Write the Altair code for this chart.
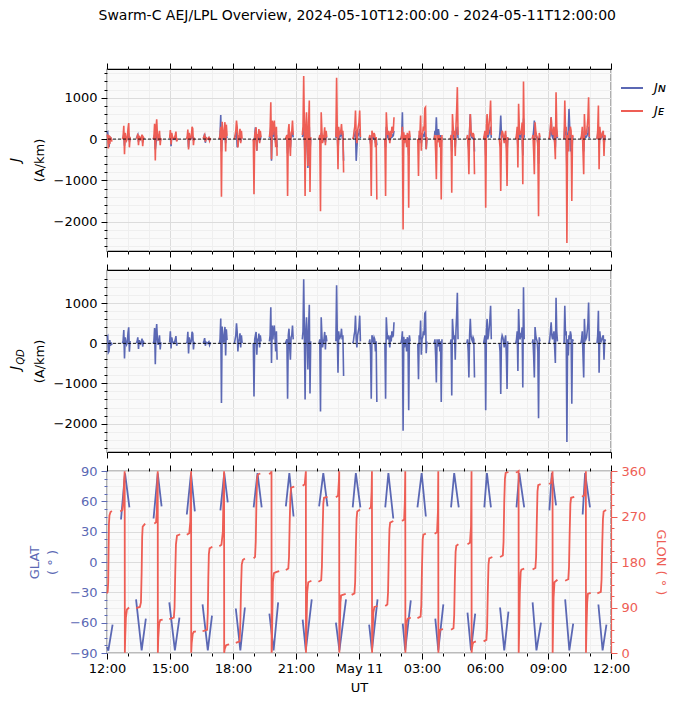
import altair as alt
import pandas as pd

BASE_MS = 1715342400000  # 2024-05-10T12:00:00 UTC
MIN_MS = 60000
BLUE = "#5B68B4"
RED = "#EE5E55"
FONT = "DejaVu Sans"
W, H = 504, 182

# ---------------- J data: pass start (minutes after 12:00 UT), 2-min cadence
J_STEP = 2
j_start = [0, 44, 84, 132, 179, 227, 275, 321, 364, 418, 464, 510, 558, 606, 654, 702,
           749, 794, 840, 888, 935, 981, 1028, 1076, 1121, 1168, 1215, 1263, 1306, 1354, 1400]
j_e = [
    [60, 110, -230, 90, -120, 40, 20, -60],
    [0, 60, 320, -370, 150, 40, -30, 20, 250, 390, -200, 60],
    [10, 40, 130, -150, 80, 20, -10, 30, 110, -170, 40, 10],
    [0, 50, 370, -520, 250, 480, 100, -40, 60, 200, -150, 30],
    [20, 220, -130, 150, 60, 20, 0, 30, 100, 180, -60, 20],
    [0, 40, 230, -250, 150, 50, 10, 60, 300, 250, -150, 40],
    [10, 60, 100, -60, 30, 10, 0, 20, 40, -40, 10, 0],
    [0, 100, 300, -1400, 420, 150, 20, 200, 410, -300, 350, 80],
    [0, 100, 200, 447, 285, -203, 60, 100, 250, -100, 200, 10],
    [0, -1341, 100, 200, 285, -285, 120, 60, 244, -100, 200, 50],
    [50, 200, 894, -488, 447, 100, 350, 447, 150, -200, 300, -407],
    [0, 50, 100, -1382, 200, 366, -100, -407, 150, 200, 447, 100],
    [100, 300, 1528, 200, -1382, 300, 650, 100, -650, 400, 935, -1285, 50],
    [0, 100, -1748, 650, 200, -100, 50, 100, 285, -150, 200, 50],
    [50, 1488, 200, -732, 300, 100, 150, 200, 366, 100, 200, -813],
    [0, 50, 200, 300, 691, 100, -100, 200, 300, 400, 691, 50],
    [20, 100, -200, -1382, 203, 100, 50, 150, 100, -200, 50, -1463],
    [0, -1382, 650, 300, 100, 200, 100, -100, 203, 50, 300, 150, 200, 528],
    [0, 100, 300, -2195, 163, -100, 50, 100, -200, 150, 100, -1667, 200, 50],
    [0, -894, 200, 100, 569, -285, 100, 150, 300, 200, 748, 772, -244, 50],
    [0, 100, -300, -976, 100, -81, 50, 100, -200, 50, -1463, 100],
    [0, 100, -1301, 610, 300, 100, 200, -407, 300, 700, 1260, 100],
    [0, 100, -200, -854, 200, 610, 200, 100, 50, 150, 100, -854],
    [0, 100, 200, -1667, 300, 610, 100, 200, 400, 600, 935, 100],
    [0, -200, -1260, 100, 200, 150, 50, -100, 100, 200, -300, -1138, 50],
    [0, 100, 300, -691, 854, 300, 100, 200, 150, 400, -1098, 1398, 100],
    [0, 100, -300, -854, 406, 200, 100, 50, -200, -1870, 150, 50],
    [0, 100, 300, 528, 200, 100, 200, 300, -100, -488, 1138, 300, 50],
    [0, 935, 200, 300, -2520, 100, -300, 200, 100, 300, 200, -1504, 100, 50],
    [0, 100, 300, -300, -854, 610, 200, 100, 150, 300, 500, 1016, 50],
    [0, 200, 813, -732, 300, 100, 50, 100, 163, 200, -407, 100, 50],
]
j_n = [
    [150, 170, -80, -190, 60, -40, 10, -20],
    [10, 30, 120, -160, 60, 20, -10, 10, 80, 100, -60, 20],
    [20, 60, 100, -60, 30, 10, 0, 40, 60, -80, 20, 0],
    [0, 30, 100, -250, -100, 150, 50, -10, 20, 60, -50, 10],
    [30, 100, -170, 60, 20, 0, 0, 10, 40, 60, -40, 10],
    [0, 20, 80, -200, 40, 10, 0, 20, 80, 60, -40, 10],
    [10, 50, 130, -90, 30, 10, 0, 10, 30, -20, 5, 0],
    [0, 100, 585, -300, 100, 40, 10, 60, 150, -100, 100, 20],
    [0, 60, 100, 200, -200, -150, 20, 40, 80, -60, 20, 0],
    [0, -100, 50, 285, 100, -285, 40, 20, 100, -60, 80, 10],
    [30, 100, 300, -528, 200, 50, 100, 200, 60, -100, 100, -200],
    [0, 20, 50, -350, 80, 150, -50, -200, 60, 100, 200, 40],
    [50, 100, 300, 50, -500, 100, 200, -100, -700, 100, 300, -300, 20],
    [0, 50, -100, 150, 80, -60, 20, 40, 100, -80, 60, 20],
    [30, 300, 100, -300, 100, 40, 60, 100, 200, 50, 80, -528],
    [0, 20, 80, 100, 200, -528, -200, 60, 100, 150, 250, 20],
    [10, 40, -100, -163, 100, 60, 20, 50, 40, -100, 20, -150],
    [0, -200, 300, 100, 50, 80, 40, -50, 100, 20, 100, 60, 80, 200],
    [0, 80, 650, -300, 100, -50, 20, 50, -100, 80, 40, -400, 60, 20],
    [0, -100, 60, 40, 150, -100, 30, 50, 100, 80, 150, 100, -244, 20],
    [0, 200, 100, 528, 100, 50, 244, 100, 50, 100, -100, 40],
    [0, 40, -300, 200, 100, 50, 80, -200, 100, 200, 300, 20],
    [0, 60, -100, -300, 200, 610, 100, 40, 20, 60, 40, -300],
    [0, 50, 100, -400, 100, 300, 40, 80, 150, 200, 300, 30],
    [0, 200, 569, 100, 80, 60, 20, -50, 40, 100, -100, -300, 20],
    [0, 40, 100, -200, 300, 100, 40, 80, 60, 150, -400, 500, 30],
    [0, 60, 200, 447, 150, 80, 40, 20, -100, -600, 60, 20],
    [0, 50, 200, 528, 100, 40, 80, 100, -50, -200, 300, 100, 20],
    [0, 300, 100, 150, -800, 100, 200, 732, 300, -300, 100, -400, 40, 20],
    [0, 50, 100, -100, -300, 200, 60, 40, 60, 100, 150, 300, 20],
    [0, 100, 300, -200, 150, 60, 30, 50, 163, 100, -150, 40, 20],
]
j_qd = [
    [150, 180, -230, -200, 80, -60, 20, -40],
    [0, 60, 330, -380, 150, 40, -30, 20, 260, 400, -210, 60],
    [10, 50, 150, -140, 80, 20, -10, 30, 120, -80, 40, 10],
    [0, 50, 380, -520, 250, 480, 100, -40, 60, 200, -150, 30],
    [20, 300, -130, 150, 60, 20, 0, 30, 100, 180, -60, 20],
    [0, 40, 290, -250, 150, 50, 10, 60, 290, 250, -150, 40],
    [10, 60, 130, -60, 30, 10, 0, 20, 40, -40, 10, 0],
    [0, 100, 620, -1490, 420, 150, 20, 200, 410, -300, 350, 80],
    [0, 100, 200, 500, 285, -203, 60, 100, 250, -100, 200, 10],
    [0, -1325, 100, 200, 285, -285, 120, 60, 244, -100, 200, 50],
    [50, 200, 900, -488, 447, 100, 350, 447, 150, -200, 300, -407],
    [0, 50, 100, -1382, 200, 366, -100, -407, 150, 200, 447, 100],
    [100, 300, 1600, 200, -1400, 300, 650, 100, -650, 400, 960, -1250, 50],
    [0, 100, -1700, 650, 200, -100, 50, 100, 285, -150, 200, 50],
    [50, 1450, 200, -732, 300, 100, 150, 200, 366, 100, 200, -813],
    [0, 50, 200, 300, 691, 100, -100, 200, 300, 400, 691, 50],
    [20, 100, -200, -1382, 203, 100, 50, 150, 100, -200, 50, -1463],
    [0, -1382, 650, 300, 100, 200, 100, -100, 203, 50, 300, 150, 200, 528],
    [0, 100, 300, -2180, 163, -100, 50, 100, -200, 150, 100, -1667, 200, 50],
    [0, -894, 200, 100, 569, -285, 100, 150, 300, 200, 748, 772, -244, 50],
    [0, 100, -300, -976, 100, -81, 50, 100, -200, 50, -1463, 100],
    [0, 100, -1301, 610, 300, 100, 200, -407, 300, 700, 1260, 100],
    [0, 100, -200, -854, 200, 610, 200, 100, 50, 150, 100, -854],
    [0, 100, 200, -1667, 300, 610, 100, 200, 400, 600, 935, 100],
    [0, -200, -1260, 100, 200, 150, 50, -100, 100, 200, -300, -1138, 50],
    [0, 100, 300, -691, 854, 300, 100, 200, 150, 400, -1098, 1398, 100],
    [0, 100, -300, -854, 406, 200, 100, 50, -200, -1870, 150, 50],
    [0, 100, 300, 528, 200, 100, 200, 300, -100, -488, 1138, 300, 50],
    [0, 935, 200, 300, -2463, 100, -300, 200, 100, 300, 200, -1504, 100, 50],
    [0, 100, 300, -300, -854, 610, 200, 100, 150, 300, 500, 1016, 50],
    [0, 200, 813, -732, 300, 100, 50, 100, 163, 200, -407, 100, 50],
]

# ---------------- GLAT passes: (minutes after 12:00 UT, latitude deg)
glat_t = [
    [0, 3.8, 16], [40, 51.5, 64], [83, 99, 111], [133, 145, 156], [178, 194, 207],
    [228, 240, 251], [273, 288, 300], [324, 335, 345], [368, 381, 394], [419, 430, 442],
    [464, 476, 489], [511, 521, 533], [559, 568, 585], [606, 618, 630], [654, 664, 683],
    [702, 711, 724], [749, 757, 773], [795, 804, 818], [845, 852, 868], [887, 899, 911],
    [938, 946.5, 961], [983, 992, 1005], [1030, 1040, 1052], [1078, 1085.5, 1097],
    [1123, 1135, 1147], [1170, 1178, 1192], [1216, 1227, 1240], [1264, 1271, 1283],
    [1309, 1321, 1332], [1359, 1366, 1380], [1404, 1416, 1427],
]
glat_v = [
    [-84, -87.7, -62], [42, 87.7, 54], [-37, -87.5, -56], [43, 87.7, 55], [-40, -87.5, -55],
    [47, 87.7, 50], [-42, -87.5, -53], [51, 88, 59], [-46, -87.5, -45], [54, 88, 54],
    [-51, -87.5, -40], [55, 88, 45], [-57, -87.5, -37], [55, 88, 55], [-60, -87.5, -37],
    [54, 88, 54], [-62, -87.5, -37], [54, 88, 43], [-61, -87.5, -38], [54, 88, 45],
    [-56, -87.5, -42], [54, 88, 54], [-50, -87.5, -51], [54, 88, 54],
    [-45, -87.5, -49], [54, 88, 54], [-40, -87.5, -60], [51, 88, 56],
    [-37, -87.5, -61], [47, 88, 54], [-42, -87.5, -62],
]

# ---------------- GLON passes: (minutes after 12:00 UT, longitude deg)
glon_t = [
    [0, 2, 3.5, 4.5, 5.5, 7, 10, 14],
    [38, 44, 47, 49, 50.5, 51, 52, 54, 57, 63],
    [83, 94, 97, 99, 100.5, 102, 109],
    [135, 140, 142.5, 144, 145, 145.3, 146.5, 149, 152, 159],
    [178, 191, 193, 195, 197, 200, 209],
    [228, 235, 238, 239.5, 240.3, 240.6, 242, 245, 248, 254],
    [273, 286, 288, 289.5, 291, 293, 301],
    [321, 327, 331, 333, 334.5, 334.8, 336.5, 340, 343, 349],
    [368, 379, 381, 383, 385, 388, 394],
    [419, 423, 425, 427, 429, 431, 438],
    [463, 468, 470, 470.3, 471, 472.5, 474, 477, 483, 492],
    [511, 518, 520, 522, 524, 526, 535],
    [559, 565, 567, 568.2, 568.5, 570, 572, 575, 584],
    [604, 612, 614, 616, 618, 620, 630],
    [654, 660, 662.5, 663.5, 663.8, 665, 667, 669, 682],
    [699, 707, 709, 711, 713, 715, 723],
    [749, 754, 756, 757, 757.3, 759, 761, 764, 773],
    [795, 801, 803, 805, 807, 809, 818],
    [843, 849, 851, 852.2, 852.5, 854, 856, 859, 868],
    [887, 896, 898, 900, 902, 904, 911],
    [936, 943, 945.5, 946.5, 946.8, 948, 950, 952, 960],
    [983, 990, 992, 994, 996, 998, 1004],
    [1030, 1037, 1040, 1041.5, 1041.8, 1043, 1045, 1047, 1054],
    [1076, 1084, 1086, 1088, 1090, 1092, 1101],
    [1123, 1131, 1133, 1135, 1137, 1139, 1147],
    [1168, 1174, 1176, 1176.3, 1177.5, 1179.5, 1182, 1184, 1192],
    [1216, 1224, 1226, 1228, 1230, 1232, 1239],
    [1263, 1269, 1271.5, 1273, 1273.3, 1274.5, 1276, 1278.5, 1287],
    [1309, 1318, 1320, 1322, 1324, 1326, 1335],
    [1357, 1364, 1367, 1368.2, 1368.5, 1370, 1372, 1374, 1382],
    [1401, 1411, 1413, 1415, 1417, 1419, 1426],
]
glon_v = [
    [118, 121, 140, 200, 255, 272, 279, 281],
    [280, 283, 300, 340, 359.5, 0.5, 30, 70, 86, 90],
    [89, 91, 100, 160, 230, 250, 256],
    [256, 258, 280, 340, 359.5, 0.5, 30, 58, 65, 66],
    [67, 70, 90, 160, 215, 232, 235],
    [234, 237, 260, 330, 359.5, 0.5, 20, 38, 42, 43],
    [43, 46, 80, 150, 195, 207, 210],
    [211, 214, 240, 320, 359.5, 0.5, 8, 15, 16, 17],
    [20, 23, 60, 130, 175, 184, 187],
    [187, 190, 220, 300, 345, 353, 355],
    [354, 356, 359.5, 0.5, 5, 80, 140, 158, 160, 162],
    [164, 167, 190, 260, 310, 327, 329],
    [331, 334, 350, 359.5, 0.5, 50, 120, 140, 143],
    [141, 144, 170, 240, 295, 307, 309],
    [308, 311, 340, 359.5, 0.5, 40, 100, 114, 117],
    [115, 118, 140, 210, 265, 280, 284],
    [285, 288, 320, 359.5, 0.5, 40, 80, 91, 93],
    [93, 96, 120, 190, 245, 258, 261],
    [261, 264, 300, 359.5, 0.5, 30, 60, 68, 70],
    [69, 72, 95, 170, 225, 234, 236],
    [236, 239, 280, 359.5, 0.5, 20, 40, 46, 47],
    [46, 49, 75, 150, 200, 212, 215],
    [215, 218, 250, 359.5, 0.5, 10, 18, 21, 23],
    [23, 26, 50, 120, 175, 187, 190],
    [190, 193, 220, 300, 345, 356, 358],
    [357, 358.5, 359.7, 0.3, 40, 120, 160, 165, 167],
    [165, 168, 190, 260, 320, 332, 334],
    [334, 337, 350, 359.5, 0.5, 50, 110, 140, 145],
    [143, 146, 170, 240, 295, 307, 309],
    [309, 312, 340, 359.5, 0.5, 50, 100, 117, 119],
    [118, 121, 145, 215, 265, 280, 283],
]

# ---------------- tables
def ms(m):
    return BASE_MS + m * MIN_MS

jrows = []
for p, t0 in enumerate(j_start):
    for k in range(len(j_e[p])):
        t = ms(t0 + J_STEP * k)
        jrows.append({"t": t, "p": p, "series": "J_N", "v": j_n[p][k]})
        jrows.append({"t": t, "p": p, "series": "J_E", "v": j_e[p][k]})
jdf = pd.DataFrame(jrows)
qrows = []
for p, t0 in enumerate(j_start):
    for k in range(len(j_qd[p])):
        qrows.append({"t": ms(t0 + J_STEP * k), "p": p, "v": j_qd[p][k]})
qdf = pd.DataFrame(qrows)
latdf = pd.DataFrame([{"t": ms(tt), "p": p, "v": vv}
                      for p in range(len(glat_t)) for tt, vv in zip(glat_t[p], glat_v[p])])
londf = pd.DataFrame([{"t": ms(tt), "p": p, "v": vv}
                      for p in range(len(glon_t)) for tt, vv in zip(glon_t[p], glon_v[p])])
zero_df = pd.DataFrame({"v": [0]})

# ---------------- axes helpers
x_ticks = [ms(60 * h) for h in range(25)]
X_MAJOR = "utchours(datum.value) % 3 == 0"
xscale = alt.Scale(type="utc", domain=[ms(0), ms(1440)], nice=False)
GRID_MAJ, GRID_MIN = "#dcdcdc", "#efefef"


def cond(test, a, b):
    return {"condition": {"test": test, "value": a}, "value": b}


def x_axis(orient, labels=False, grid=False, title=None):
    kw = dict(orient=orient, values=x_ticks, labels=labels, grid=grid,
              tickSize=cond(X_MAJOR, 6, 3), tickColor="black", domain=False,
              labelOverlap=False, labelFlush=False)
    if labels:
        kw["labelExpr"] = ("utchours(datum.value) % 3 != 0 ? '' : (utchours(datum.value) == 0 ? "
                           "utcFormat(datum.value, '%b %d') : utcFormat(datum.value, '%H:%M'))")
        kw["labelPadding"] = 3
    if grid:
        kw["gridColor"] = cond(X_MAJOR, GRID_MAJ, GRID_MIN)
    if title:
        kw["title"] = title
        kw["titlePadding"] = 6
    else:
        kw["title"] = None
    return alt.Axis(**kw)


def y_axis(values, major, title=None, color="black", orient="left", grid=True, tpad=6):
    test = f"datum.value % {major} == 0"
    kw = dict(orient=orient, values=values, format="d",
              labelExpr=f"{test} ? datum.label : ''",
              tickSize=cond(test, 6, 3), tickColor=color, labelColor=color,
              grid=grid, domain=False, labelPadding=4, labelOverlap=False, labelFlush=False)
    if grid:
        kw["gridColor"] = cond(test, GRID_MAJ, GRID_MIN)
    if title is not None:
        kw["title"] = title
        kw["titleColor"] = color
        kw["titlePadding"] = tpad
    else:
        kw["title"] = None
    return alt.Axis(**kw)


one = pd.DataFrame({"a": [0]})
jvals = list(range(-2600, 1601, 200))

color_enc = alt.Color("series:N", scale=alt.Scale(domain=["J_N", "J_E"], range=[BLUE, RED]),
                      legend=alt.Legend(title=None, labelExpr="datum.label == 'J_N' ? 'Jɴ' : 'Jᴇ'"))

# ---------------- panel 1
y1 = alt.Y("v:Q", scale=alt.Scale(domain=[-2715, 1700], nice=False, zero=False),
           axis=y_axis(jvals, 1000, title="(A/km)", tpad=7))
base1 = alt.Chart(jdf)
jn_line = base1.transform_filter("datum.series == 'J_N'").mark_line(strokeWidth=1.6).encode(
    x=alt.X("t:T", scale=xscale, axis=x_axis("bottom", grid=True)), y=y1,
    color=color_enc, detail="p:N")
je_line = base1.transform_filter("datum.series == 'J_E'").mark_line(strokeWidth=1.6).encode(
    x=alt.X("t:T", scale=xscale, axis=x_axis("top")), y=y1,
    color=color_enc, detail="p:N")
zero1 = alt.Chart(zero_df).mark_rule(color="black", strokeWidth=0.9, strokeDash=[3, 2]).encode(y=y1)
jt1 = alt.Chart(one).mark_text(text="J", font=FONT, fontStyle="italic", fontSize=14, angle=270,
                               align="center", baseline="middle").encode(
    x=alt.value(-91.5), y=alt.value(H / 2))
p1 = alt.layer(jn_line, je_line, zero1, jt1).properties(width=W, height=H).resolve_axis(x="independent")

# ---------------- panel 2
y2 = alt.Y("v:Q", scale=alt.Scale(domain=[-2710, 1830], nice=False, zero=False),
           axis=y_axis(jvals, 1000, title="(A/km)", tpad=7))
base2 = alt.Chart(qdf)
qd_line = base2.mark_line(strokeWidth=1.6, color=BLUE).encode(
    x=alt.X("t:T", scale=xscale, axis=x_axis("bottom", grid=True)), y=y2, detail="p:N")
qd_top = base2.mark_line(strokeOpacity=0).encode(
    x=alt.X("t:T", scale=xscale, axis=x_axis("top")), y=y2, detail="p:N")
zero2 = alt.Chart(zero_df).mark_rule(color="black", strokeWidth=0.9, strokeDash=[3, 2]).encode(y=y2)
jt2 = alt.Chart(one).mark_text(text="J", font=FONT, fontStyle="italic", fontSize=14, angle=270,
                               align="center", baseline="middle").encode(
    x=alt.value(-91.5), y=alt.value(H / 2 + 7))
qdt2 = alt.Chart(one).mark_text(text="QD", font=FONT, fontStyle="italic", fontSize=10, angle=270,
                                align="center", baseline="middle").encode(
    x=alt.value(-86.5), y=alt.value(H / 2 - 4))
p2 = alt.layer(qd_line, qd_top, zero2, jt2, qdt2).properties(width=W, height=H).resolve_axis(x="independent")

# ---------------- panel 3
lat_vals = [-90 + 7.5 * k for k in range(25)]
lon_vals = [22.5 * k for k in range(17)]
lat_line = alt.Chart(latdf).mark_line(strokeWidth=1.8, color=BLUE).encode(
    x=alt.X("t:T", scale=xscale, axis=x_axis("bottom", labels=True, grid=True, title="UT")),
    y=alt.Y("v:Q", scale=alt.Scale(domain=[-90, 90], nice=False),
            axis=y_axis(lat_vals, 30, title=["GLAT", "( ° )"], color=BLUE, tpad=10)),
    detail="p:N")
lon_axis = y_axis(lon_vals, 90, title="GLON  ( ° )", color=RED, orient="right", grid=False, tpad=8)
lon_axis["domain"] = True
lon_axis["domainColor"] = RED
lon_axis["domainWidth"] = 1.2
lon_line = alt.Chart(londf).mark_line(strokeWidth=1.8, color=RED).encode(
    x=alt.X("t:T", scale=xscale, axis=x_axis("top")),
    y=alt.Y("v:Q", scale=alt.Scale(domain=[0, 360], nice=False), axis=lon_axis),
    detail="p:N")
p3 = alt.layer(lat_line, lon_line).properties(width=W, height=H).resolve_scale(
    y="independent").resolve_axis(x="independent")

chart = alt.vconcat(p1, p2, p3, spacing=19, bounds="flush").resolve_legend(
    color="independent").properties(
    title=alt.TitleParams("Swarm-C AEJ/LPL Overview, 2024-05-10T12:00:00 - 2024-05-11T12:00:00",
                          font=FONT, fontSize=14, fontWeight="normal", anchor="middle",
                          offset=39, dx=16, color="black"),
    padding={"left": 7, "top": 8, "right": 2, "bottom": 5},
).configure_view(stroke="black", strokeWidth=1.2, fill="#FAFAFA").configure_axis(
    labelFont=FONT, labelFontSize=13, titleFont=FONT, titleFontSize=13, titleFontWeight="normal",
    titleLineHeight=18, labelOverlap=False,
).configure_legend(
    orient="right", offset=2, symbolType="stroke", symbolSize=484, symbolStrokeWidth=2,
    labelFont=FONT, labelFontSize=13, labelFontStyle="italic", rowPadding=4, padding=7,
    labelOffset=10,
)

chart.save("out.html", embed_options={"renderer": "svg", "actions": False})
